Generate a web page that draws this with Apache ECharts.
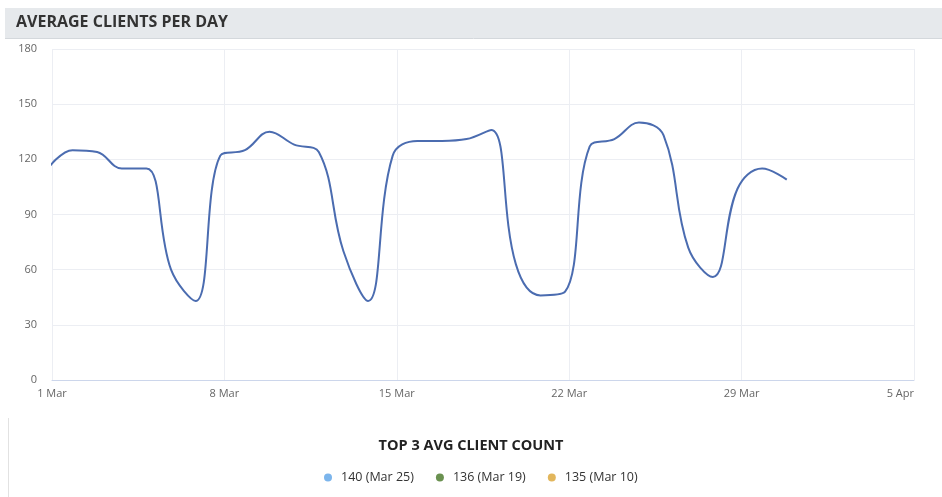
<!DOCTYPE html>
<html>
<head>
<meta charset="utf-8">
<script src="https://cdn.jsdelivr.net/npm/echarts@6/dist/echarts.min.js"></script>
<style>
  html, body { margin: 0; padding: 0; background: #ffffff; }
  #chart { width: 942px; height: 497px; }
</style>
</head>
<body>
<div id="chart"></div>
<script>
// daily averages, 1 Mar .. 31 Mar
const dayLabels = ['Mar 1','Mar 2','Mar 3','Mar 4','Mar 5','Mar 6','Mar 7','Mar 8','Mar 9','Mar 10',
  'Mar 11','Mar 12','Mar 13','Mar 14','Mar 15','Mar 16','Mar 17','Mar 18','Mar 19','Mar 20',
  'Mar 21','Mar 22','Mar 23','Mar 24','Mar 25','Mar 26','Mar 27','Mar 28','Mar 29','Mar 30','Mar 31']
const avgClients = [115, 125, 124, 115, 115, 60, 43, 122, 125, 135,
  128, 124, 70, 43, 122, 130, 130, 131, 136, 63,
  46, 48, 127, 131, 140, 133, 72, 56, 104, 115, 109]
// samples are stamped at UTC midnight, shown 4h earlier in local time
const sampleOffsetHours = -4
const xTickLabels = ['1 Mar', '8 Mar', '15 Mar', '22 Mar', '29 Mar', '5 Apr']
const yTicks = [0, 30, 60, 90, 120, 150, 180]

const topValues = [140, 136, 135]
const topDays = ['Mar 25', 'Mar 19', 'Mar 10']
const topColors = ['#7cb5ec', '#6a9150', '#e2b65c']

const lineData = avgClients.map((v, i) => [i + sampleOffsetHours / 24, v])
const topNames = topValues.map((v, i) => v + ' (' + topDays[i] + ')')

const chart = echarts.init(document.getElementById('chart'))

const option = {
  backgroundColor: '#ffffff',
  animation: false,
  textStyle: { fontFamily: '"Open Sans", sans-serif' },
  title: [
    {
      text: 'TOP 3 AVG CLIENT COUNT',
      left: 'center',
      top: 433,
      textStyle: { fontSize: 14.5, fontWeight: 'bold', color: '#222222', fontFamily: '"Open Sans", sans-serif' }
    }
  ],
  graphic: [
    {
      type: 'rect',
      shape: { x: 5, y: 8, width: 937, height: 30 },
      style: { fill: '#e6e9ec' },
      silent: true
    },
    {
      type: 'line',
      shape: { x1: 5, y1: 38.5, x2: 942, y2: 38.5 },
      style: { stroke: '#d4d8dc', lineWidth: 1 },
      silent: true
    },
    {
      type: 'text',
      left: 16,
      top: 14,
      style: {
        text: 'AVERAGE CLIENTS PER DAY',
        fill: '#333333',
        font: 'bold 16px "Open Sans", sans-serif'
      },
      silent: true
    },
    {
      type: 'line',
      shape: { x1: 8.5, y1: 418, x2: 8.5, y2: 497 },
      style: { stroke: '#e2e2e2', lineWidth: 1 },
      silent: true
    }
  ],
  legend: {
    data: topNames,
    left: 319,
    top: 466,
    icon: 'circle',
    itemWidth: 8,
    itemHeight: 8,
    itemGap: 22,
    selectedMode: false,
    textStyle: { fontSize: 12.5, color: '#333333', padding: [0, 0, 0, 4] }
  },
  grid: { left: 52, right: 28, top: 49, bottom: 117 },
  xAxis: {
    type: 'value',
    min: 0,
    max: 35,
    interval: 7,
    axisLine: { show: true, lineStyle: { color: '#ccd6eb' } },
    axisTick: { show: false },
    axisLabel: {
      color: '#666666',
      fontSize: 11,
      margin: 8,
      alignMaxLabel: 'right',
      formatter: (v) => xTickLabels[Math.round(v / 7)]
    },
    splitLine: { show: true, lineStyle: { color: '#eceef3' } }
  },
  yAxis: {
    type: 'value',
    min: yTicks[0],
    max: yTicks[yTicks.length - 1],
    interval: 30,
    axisLine: { show: false },
    axisTick: { show: false },
    axisLabel: { color: '#666666', fontSize: 11, margin: 15 },
    splitLine: { show: true, lineStyle: { color: '#eceef3' } }
  },
  series: [
    {
      name: 'Average clients',
      type: 'line',
      data: lineData,
      smooth: 0.4,
      showSymbol: false,
      clip: true,
      lineStyle: { color: '#4b6cb0', width: 2 },
      itemStyle: { color: '#4b6cb0' }
    }
  ].concat(topNames.map((n, i) => ({
    name: n,
    type: 'line',
    data: [],
    itemStyle: { color: topColors[i] }
  })))
}

chart.setOption(option)
</script>
</body>
</html>
